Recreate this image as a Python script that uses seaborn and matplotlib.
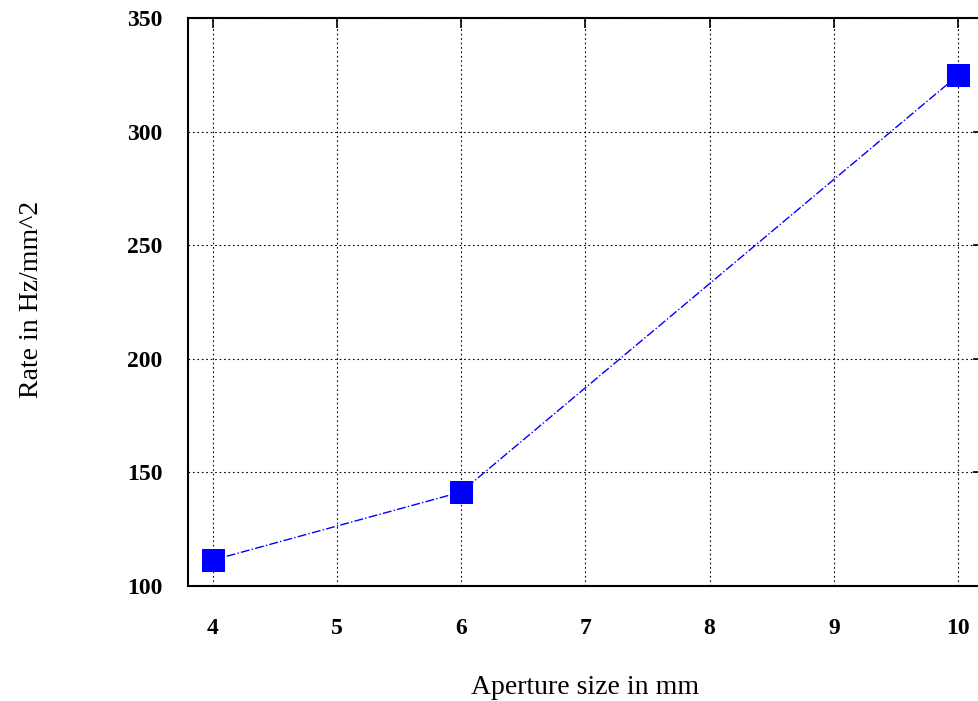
import matplotlib
matplotlib.use("Agg")
import matplotlib.pyplot as plt
import seaborn as sns
import pandas as pd

aperture_mm = [4, 6, 10]
rate_hz_mm2 = [111.4, 141.4, 324.9]
x_ticks = [4, 5, 6, 7, 8, 9, 10]
y_ticks = [100, 150, 200, 250, 300, 350]

sns.set_style("white")
plt.rcParams['font.family'] = ['Liberation Serif', 'DejaVu Serif']
plt.rcParams['text.color'] = 'black'
plt.rcParams['axes.labelcolor'] = 'black'

df = pd.DataFrame({"aperture": aperture_mm, "rate": rate_hz_mm2})

fig = plt.figure(figsize=(9.79, 7.01), dpi=100)
ax = fig.add_axes([0.1917, 0.164, 0.8124, 0.810])

sns.lineplot(data=df, x="aperture", y="rate", ax=ax, color="#0000ff",
             linestyle="-.", linewidth=1.0, marker="s", markersize=15.5,
             markeredgecolor="#0000ff", markerfacecolor="#0000ff")

ax.set_xlim(3.8, 10.2)
ax.set_ylim(100, 350)
ax.set_xticks(x_ticks)
ax.set_yticks(y_ticks)
ax.set_xticklabels([str(v) for v in x_ticks], fontsize=17, fontweight="bold")
ax.set_yticklabels([str(v) for v in y_ticks], fontsize=17, fontweight="bold")
ax.grid(True, color="black", linestyle=(0, (1.5, 2.5)), linewidth=0.8)
ax.set_axisbelow(True)
for s in ax.spines.values():
    s.set_color("black")
    s.set_linewidth(1.5)
ax.tick_params(direction="in", length=7, width=1.2, top=True, right=True,
               colors="black")
ax.tick_params(axis="x", pad=23)
ax.tick_params(axis="y", pad=18)
ax.set_xlabel("Aperture size in mm", fontsize=20, color="black")
ax.set_ylabel("Rate in Hz/mm^2", fontsize=20, color="black")
ax.xaxis.set_label_coords(0.5, -0.178)
ax.xaxis.label.set_va("center")
ax.yaxis.set_label_coords(-0.196, 0.505)
ax.yaxis.label.set_va("center")

fig.savefig("out.png", dpi=100)
